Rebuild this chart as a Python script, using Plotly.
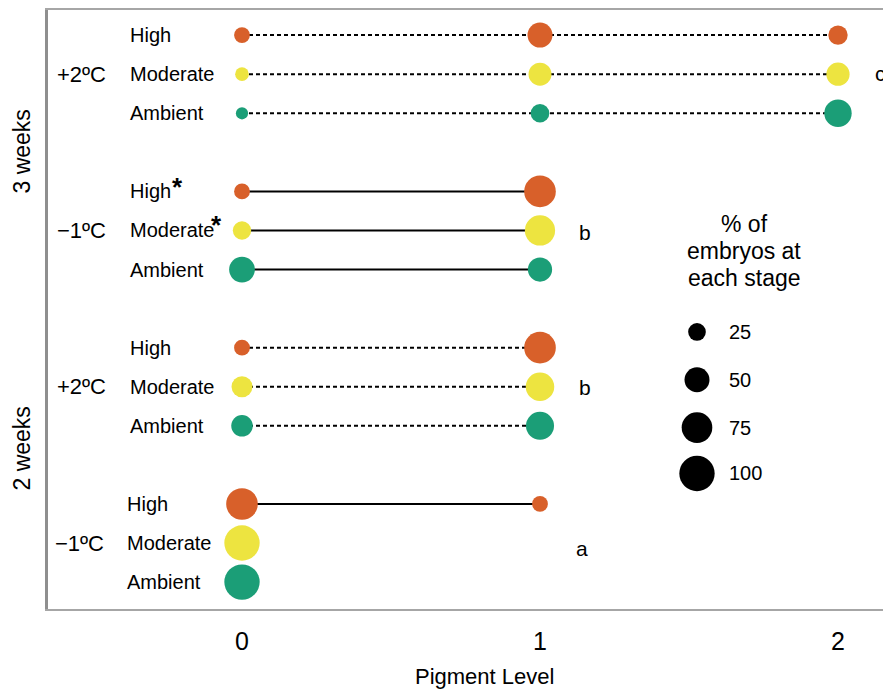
import plotly.graph_objects as go

# ---------------- data ----------------
weeks = ["3 weeks"] * 6 + ["2 weeks"] * 6
temps = ["+2ºC"] * 3 + ["−1ºC"] * 3 + ["+2ºC"] * 3 + ["−1ºC"] * 3
treatments = ["High", "Moderate", "Ambient"] * 4
# % of embryos at pigment level 0, 1, 2
pct_level0 = [20, 15, 12, 20, 27, 53, 20, 35, 37, 80, 100, 100]
pct_level1 = [50, 42, 28, 80, 73, 47, 80, 65, 63, 20, 0, 0]
pct_level2 = [30, 43, 60, 0, 0, 0, 0, 0, 0, 0, 0, 0]
pigment_levels = [0, 1, 2]
letters = ["c", "b", "b", "a"]          # one per week x temperature group
starred = [False, False, False, True, True, False, False, False, False, False, False, False]
legend_values = [25, 50, 75, 100]
legend_title = ["% of", "embryos at", "each stage"]

colors = {"High": "#D8602A", "Moderate": "#EDE440", "Ambient": "#1B9E77"}
FONT = "Liberation Sans, Arial, sans-serif"

# page body has an 8px margin: work in reference-pixel coordinates and shift
OFF = 8
W, H = 891 - OFF, 695 - OFF
PLOT_L, PLOT_T, PLOT_B, PLOT_R = 48, 8, 609, 891   # reference pixels
ML, MT = PLOT_L - OFF, PLOT_T - OFF
MR = 891 - PLOT_R
MB = H - (PLOT_B - OFF)
PW, PH = W - ML - MR, H - MT - MB

# row y positions (groups of 3 separated by one empty slot)
row_y = [15 - (i // 3) * 4 - (i % 3) for i in range(12)]

X0PX, XUNIT = 242, 298
Y1PX, YUNIT = 582, 39.2
def px2x(px): return (px - X0PX) / XUNIT
def py2y(py): return 1 + (Y1PX - py) / YUNIT
def pxp(px): return (px - PLOT_L) / PW
def pyp(py): return (PLOT_B - py) / PH

xr = [px2x(PLOT_L), px2x(PLOT_R)]
yr = [py2y(PLOT_B), py2y(PLOT_T)]

SIZEREF = 0.16

fig = go.Figure()

# connecting lines
for style, dash in (("−1ºC", "solid"), ("+2ºC", "4px,3px")):
    lx, ly = [], []
    for i in range(12):
        if temps[i] != style:
            continue
        vals = [pct_level0[i], pct_level1[i], pct_level2[i]]
        present = [lv for lv, v in zip(pigment_levels, vals) if v > 0]
        if len(present) > 1:
            lx += [min(present), max(present), None]
            ly += [row_y[i], row_y[i], None]
    fig.add_trace(go.Scatter(x=lx, y=ly, mode="lines",
                             line=dict(color="black", width=2, dash=dash),
                             hoverinfo="skip", showlegend=False))

# points
for tr in ["High", "Moderate", "Ambient"]:
    xs, ys, ss = [], [], []
    for i in range(12):
        if treatments[i] != tr:
            continue
        for lv, v in zip(pigment_levels, [pct_level0[i], pct_level1[i], pct_level2[i]]):
            if v > 0:
                xs.append(lv); ys.append(row_y[i]); ss.append(v)
    fig.add_trace(go.Scatter(x=xs, y=ys, mode="markers",
                             marker=dict(size=ss, sizemode="area", sizeref=SIZEREF, opacity=1,
                                         color=colors[tr], line=dict(width=0)),
                             cliponaxis=False, showlegend=False, name=tr))

# size legend
leg_py = [331, 379, 427, 473]
fig.add_trace(go.Scatter(x=[px2x(697)] * 4, y=[py2y(p) for p in leg_py], mode="markers",
                         marker=dict(size=legend_values, sizemode="area", sizeref=SIZEREF,
                                     opacity=1, color="black", line=dict(width=0)),
                         cliponaxis=False, showlegend=False, hoverinfo="skip"))

ann = []
# row labels
for i in range(12):
    lx = 125 if i >= 9 else 128
    ann.append(dict(text=treatments[i], xref="paper", yref="y", x=pxp(lx), y=row_y[i],
                    xanchor="left", yanchor="middle", showarrow=False,
                    font=dict(size=20, family=FONT, color="black")))
# asterisks
for i, (ax, ay) in zip([3, 4], [(177, 186), (216, 224)]):
    if starred[i]:
        ann.append(dict(text="<b>*</b>", xref="paper", yref="paper", x=pxp(ax), y=pyp(ay),
                        xanchor="center", yanchor="middle", showarrow=False,
                        font=dict(size=26, family=FONT, color="black")))
# temperature group labels and letters
letter_px = [(880, 72), (585, 231), (585, 387), (582, 548)]
for g in range(4):
    i = g * 3 + 1
    ann.append(dict(text=temps[i], xref="paper", yref="y", x=pxp(108 if g < 3 else 106),
                    y=row_y[i], xanchor="right", yanchor="middle", showarrow=False,
                    font=dict(size=22, family=FONT, color="black")))
    lpx, lpy = letter_px[g]
    ann.append(dict(text=letters[g], xref="paper", yref="paper", x=pxp(lpx), y=pyp(lpy),
                    xanchor="center", yanchor="middle", showarrow=False,
                    font=dict(size=21, family=FONT, color="black")))
# week labels
for wk, py in (("3 weeks", 150), ("2 weeks", 448)):
    ann.append(dict(text=wk, xref="paper", yref="paper", x=pxp(22), y=pyp(py),
                    textangle=-90, xanchor="center", yanchor="middle", showarrow=False,
                    font=dict(size=23, family=FONT, color="black")))
# legend title and labels
for t, py in zip(legend_title, [223, 250, 277]):
    ann.append(dict(text=t, xref="paper", yref="paper", x=pxp(744), y=pyp(py),
                    xanchor="center", yanchor="middle", showarrow=False,
                    font=dict(size=23, family=FONT, color="black")))
for v, py in zip(legend_values, leg_py):
    ann.append(dict(text=str(v), xref="paper", yref="paper", x=pxp(727), y=pyp(py),
                    xanchor="left", yanchor="middle", showarrow=False,
                    font=dict(size=20, family=FONT, color="black")))
# x axis title
ann.append(dict(text="Pigment Level", xref="paper", yref="paper", x=pxp(484), y=pyp(677),
                xanchor="center", yanchor="middle", showarrow=False,
                font=dict(size=22, family=FONT, color="black")))

fig.update_layout(
    width=W, height=H,
    margin=dict(l=ML, r=MR, t=MT, b=MB, pad=0),
    paper_bgcolor="white", plot_bgcolor="white",
    annotations=ann,
    xaxis=dict(range=xr, tickvals=pigment_levels, ticktext=[str(v) for v in pigment_levels],
               showgrid=False, zeroline=False, showline=True, mirror=True,
               linecolor="#a6a6a6", linewidth=1.5,
               ticks="outside", ticklen=9, tickcolor="rgba(0,0,0,0)",
               tickfont=dict(size=25, family=FONT, color="black")),
    yaxis=dict(range=yr, showgrid=False, zeroline=False, showticklabels=False,
               showline=True, linecolor="#8f8f8f", linewidth=2.5),
    showlegend=False,
)

fig.write_html("out.html")
